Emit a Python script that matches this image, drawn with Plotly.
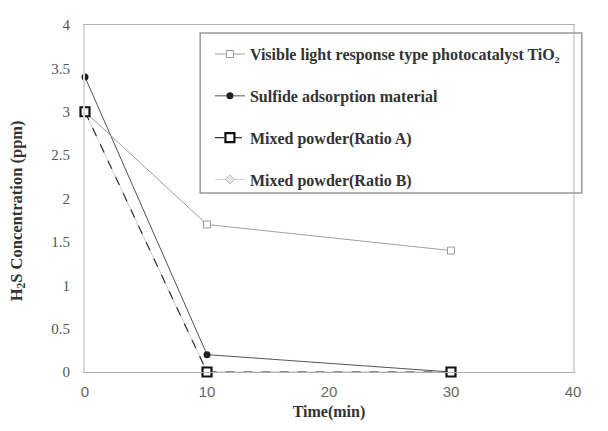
import plotly.graph_objects as go

time_min = [0, 10, 30]
tio2 = [3.0, 1.7, 1.4]
sulfide = [3.4, 0.2, 0.0]
ratio_a = [3.0, 0.0, 0.0]
ratio_b = [3.0, 0.0, 0.0]

names = ["Visible light response type photocatalyst TiO\u2082",
         "Sulfide adsorption material",
         "Mixed powder(Ratio A)",
         "Mixed powder(Ratio B)"]

x_ticks = [0, 10, 20, 30, 40]
y_ticks = [0, 0.5, 1, 1.5, 2, 2.5, 3, 3.5, 4]
y_tick_text = ["0", "0.5", "1", "1.5", "2", "2.5", "3", "3.5", "4"]

fig = go.Figure()
fig.add_trace(go.Scatter(x=time_min, y=ratio_b, name=names[3], mode="lines+markers",
                         line=dict(color="#cccccc", width=1),
                         marker=dict(symbol="diamond", size=7, color="#e6e6e6",
                                     line=dict(color="#bbbbbb", width=1)),
                         legendgroup="d", legendrank=4))
fig.add_trace(go.Scatter(x=time_min, y=sulfide, name=names[1], mode="lines+markers",
                         line=dict(color="#555555", width=1),
                         marker=dict(symbol="circle", size=7, color="#222222"),
                         legendgroup="b", legendrank=2))
fig.add_trace(go.Scatter(x=time_min, y=tio2, name=names[0], mode="lines+markers",
                         line=dict(color="#a0a0a0", width=1),
                         marker=dict(symbol="square", size=7, color="white",
                                     line=dict(color="#999999", width=1)),
                         legendgroup="a", legendrank=1))
fig.add_trace(go.Scatter(x=time_min, y=ratio_a, name=names[2], mode="lines+markers",
                         line=dict(color="#333333", width=1.2, dash="dash"),
                         marker=dict(symbol="square", size=9, color="white",
                                     line=dict(color="#111111", width=2.2)),
                         legendgroup="c", legendrank=3))

fig.add_shape(type="rect", xref="paper", yref="paper", x0=0.236, x1=1.018,
              y0=0.516, y1=0.977, line=dict(color="#9a9a9a", width=1.5),
              fillcolor="rgba(255,255,255,0)")

fig.add_annotation(text="<b>H<sub>2</sub>S Concentration (ppm)</b>", textangle=-90,
                   xref="paper", yref="paper", x=-0.14, y=0.465, xanchor="center",
                   yanchor="middle", showarrow=False,
                   font=dict(family="Liberation Serif", size=16.5, color="#333333"))

fig.update_layout(
    width=608, height=431,
    margin=dict(l=85, r=35, t=25, b=59),
    paper_bgcolor="white", plot_bgcolor="white",
    showlegend=True,
    legend=dict(x=0.256, y=0.965, xanchor="left", yanchor="top",
                bgcolor="rgba(0,0,0,0)", borderwidth=0,
                tracegroupgap=18, itemwidth=30,
                font=dict(family="Liberation Serif", size=16, color="#333333", weight="bold"),
                traceorder="grouped"),
    xaxis=dict(range=[0, 40], tickvals=x_ticks, showgrid=False, zeroline=False,
               showline=True, linecolor="#b0b0b0", linewidth=1, mirror=True,
               ticks="", ticklabelstandoff=6, automargin=False,
               tickfont=dict(family="Liberation Sans", size=15, color="#666666"),
               title=dict(text="<b>Time(min)</b>", standoff=6,
                          font=dict(family="Liberation Serif", size=16, color="#333333"))),
    yaxis=dict(range=[0, 4], tickvals=y_ticks, ticktext=y_tick_text, showgrid=False,
               zeroline=False, showline=True, linecolor="#dadada", linewidth=2, mirror=True,
               ticks="", ticklabelstandoff=10, automargin=False,
               tickfont=dict(family="Liberation Serif", size=15, color="#555555")),
)
fig.update_traces(cliponaxis=False)

fig.write_html("out.html", config={"displayModeBar": False},
               post_script="document.body.style.margin='0';window.dispatchEvent(new Event('resize'));")
